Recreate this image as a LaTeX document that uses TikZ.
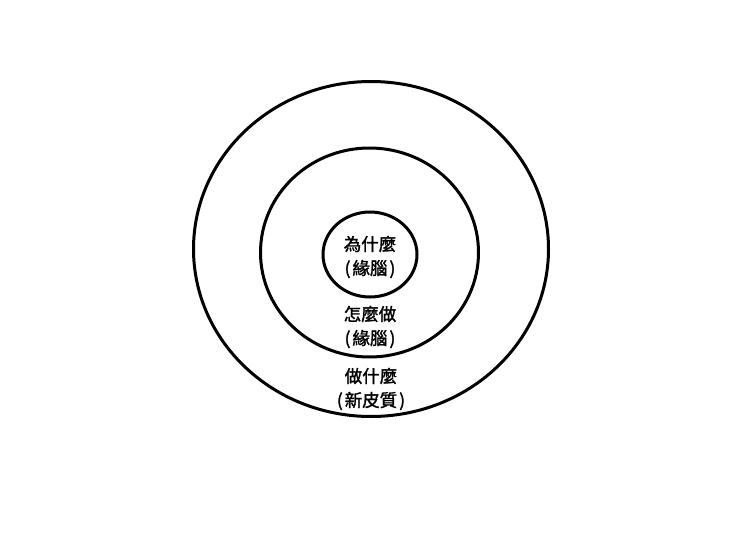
\documentclass[tikz,border=0pt]{standalone}
\usepackage{fontspec}
\newfontfamily\cjk[FakeBold=1.6]{Noto Sans CJK TC}

\begin{document}
\begin{tikzpicture}[x=1pt, y=-1pt,
    ring/.style={line width=3pt},
    txt/.style={font=\cjk\fontsize{17.5}{24}\selectfont, align=center, inner sep=0pt}]
    \useasboundingbox (0,0) rectangle (740,555);

    % rings
    \coordinate (O) at (371,249);
    \draw[ring] (O) ellipse [x radius=177.5, y radius=167.5];
    \draw[ring] (369.5,252.5) ellipse [x radius=109, y radius=104.5];
    \draw[ring] (370,254.5) ellipse [x radius=47, y radius=42.5];

    % labels
    \node[txt] (why) at (370,257) {為什麼\\(\kern2pt緣腦\kern2pt)};
    \node[txt] (how) at (370,327) {怎麼做\\(\kern2pt緣腦\kern2pt)};
    \node[txt] (what) at (371,389) {做什麼\\(\kern2pt新皮質\kern2pt)};
\end{tikzpicture}
\end{document}
